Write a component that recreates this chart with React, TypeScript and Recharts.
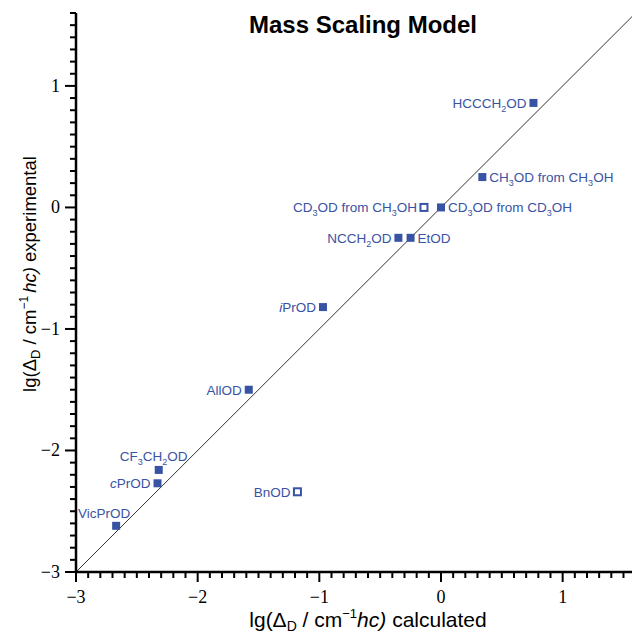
import React from 'react';
import { ScatterChart, Scatter, XAxis, YAxis, ReferenceLine, Customized } from 'recharts';

const names = [
  'HCCCH_2OD',
  'CH_3OD from CH_3OH',
  'CD_3OD from CH_3OH',
  'CD_3OD from CD_3OH',
  'NCCH_2OD',
  'EtOD',
  '*i*PrOD',
  'AllOD',
  'CF_3CH_2OD',
  '*c*PrOD',
  'VicPrOD',
  'BnOD',
];
const calculated = [0.76, 0.34, -0.14, 0.0, -0.35, -0.25, -0.97, -1.58, -2.32, -2.33, -2.67, -1.18];
const experimental = [0.86, 0.25, 0.0, 0.0, -0.25, -0.25, -0.82, -1.5, -2.16, -2.27, -2.62, -2.34];
const openMarker = [false, false, true, false, false, false, false, false, false, false, false, true];
const labelSide = ['left', 'right', 'left', 'right', 'left', 'right', 'left', 'left', 'above', 'left', 'aboveLeft', 'left'];

const majorTicks = [-3, -2, -1, 0, 1];
const tickLabels = ['\u22123', '\u22122', '\u22121', '0', '1'];

const X_DOMAIN: [number, number] = [-3, 1.57];
const Y_DOMAIN: [number, number] = [-3, 1.6];

const BLUE = '#3953a4';
const SANS = '"Liberation Sans", Arial, Helvetica, sans-serif';
const SERIF = '"Liberation Serif", "Times New Roman", serif';

const data = names.map((name, i) => ({
  name,
  x: calculated[i],
  y: experimental[i],
  open: openMarker[i],
  side: labelSide[i],
}));

function minorTicks(lo: number, hi: number) {
  const out: number[] = [];
  for (let i = Math.ceil(lo * 10 - 1e-6); i <= Math.floor(hi * 10 + 1e-6); i++) out.push(i / 10);
  return out;
}

function labelFor(v: number) {
  const i = majorTicks.findIndex((m) => Math.abs(m - v) < 1e-6);
  return i >= 0 ? tickLabels[i] : null;
}

// tokens: _X -> subscript char, *abc* -> italic
function RichText({ x, y, text, anchor }: { x: number; y: number; text: string; anchor: string }) {
  const parts: React.ReactNode[] = [];
  const re = /(_.)|(\*[^*]+\*)|([^_*]+)/g;
  let m: RegExpExecArray | null;
  let shifted = false;
  let k = 0;
  while ((m = re.exec(text))) {
    if (m[1]) {
      parts.push(
        <tspan key={k++} dy={shifted ? 0 : 4} fontSize={9}>
          {m[1].slice(1)}
        </tspan>
      );
      shifted = true;
    } else {
      const dy = shifted ? -4 : 0;
      shifted = false;
      const t = m[2] ? m[2].slice(1, -1) : m[3];
      parts.push(
        <tspan key={k++} dy={dy} fontStyle={m[2] ? 'italic' : 'normal'}>
          {t}
        </tspan>
      );
    }
  }
  return (
    <text x={x} y={y} textAnchor={anchor} fill={BLUE} fontFamily={SANS} fontSize={13.5}>
      {parts}
    </text>
  );
}

function PointShape(props: any) {
  const { cx, cy, payload } = props;
  const s = 8;
  let lx = cx - 7;
  let ly = cy + 5;
  let anchor = 'end';
  if (payload.side === 'right') {
    lx = cx + 7;
    anchor = 'start';
  } else if (payload.side === 'above') {
    lx = cx - 5;
    ly = cy - 9;
    anchor = 'middle';
  } else if (payload.side === 'aboveLeft') {
    lx = cx - 12;
    ly = cy - 8;
    anchor = 'middle';
  }
  return (
    <g>
      {payload.open ? (
        <rect x={cx - 3.5} y={cy - 3.5} width={7} height={7} fill="#fff" stroke={BLUE} strokeWidth={2} />
      ) : (
        <rect x={cx - s / 2} y={cy - s / 2} width={s} height={s} fill={BLUE} />
      )}
      <RichText x={lx} y={ly} text={payload.name} anchor={anchor} />
    </g>
  );
}

function XTick(props: any) {
  const { x, y, payload } = props;
  const label = labelFor(payload.value);
  return (
    <g>
      <line x1={x} x2={x} y1={y} y2={y + (label ? 10 : 6)} stroke="#000" strokeWidth={2} />
      {label && (
        <text x={x} y={y + 31} textAnchor="middle" fontFamily={SERIF} fontSize={18} fill="#000">
          {label}
        </text>
      )}
    </g>
  );
}

function YTick(props: any) {
  const { x, y, payload } = props;
  const label = labelFor(payload.value);
  return (
    <g>
      <line x1={x - (label ? 11 : 6)} x2={x} y1={y} y2={y} stroke="#000" strokeWidth={2} />
      {label && (
        <text x={x - 16} y={y + 6} textAnchor="end" fontFamily={SERIF} fontSize={18} fill="#000">
          {label}
        </text>
      )}
    </g>
  );
}

function Titles() {
  return (
    <g fontFamily={SANS} fill="#000">
      <text x={363} y={33} textAnchor="middle" fontWeight="bold" fontSize={24}>
        Mass Scaling Model
      </text>
      <text x={368} y={627} textAnchor="middle" fontSize={21}>
        <tspan>lg(Δ</tspan>
        <tspan dy={4} fontSize={14}>D</tspan>
        <tspan dy={-4}> / cm</tspan>
        <tspan dy={-9} fontSize={13}>−1</tspan>
        <tspan dy={9} fontStyle="italic">hc)</tspan>
        <tspan> calculated</tspan>
      </text>
      <text x={36} y={274} textAnchor="middle" fontSize={18.5} transform="rotate(-90 36 274)">
        <tspan>lg(Δ</tspan>
        <tspan dy={4} fontSize={13}>D</tspan>
        <tspan dy={-4}> / cm</tspan>
        <tspan dy={-8} fontSize={12}>−1</tspan>
        <tspan dy={8} dx={3} fontStyle="italic">hc)</tspan>
        <tspan> experimental</tspan>
      </text>
    </g>
  );
}

export default function App() {
  return (
    <div style={{ position: 'absolute', left: 0, top: 0, background: '#fff' }}>
      <ScatterChart width={632} height={633} margin={{ top: 13, right: 0, bottom: 0, left: 0 }}>
        <XAxis
          type="number"
          dataKey="x"
          domain={X_DOMAIN}
          allowDataOverflow
          ticks={minorTicks(X_DOMAIN[0], X_DOMAIN[1])}
          interval={0}
          tickSize={0}
          tickMargin={0}
          tickLine={false}
          tick={<XTick />}
          axisLine={{ stroke: '#000', strokeWidth: 2.5 }}
          height={61}
        />
        <YAxis
          type="number"
          dataKey="y"
          domain={Y_DOMAIN}
          allowDataOverflow
          ticks={minorTicks(Y_DOMAIN[0], Y_DOMAIN[1])}
          interval={0}
          tickSize={0}
          tickMargin={0}
          tickLine={false}
          tick={<YTick />}
          axisLine={{ stroke: '#000', strokeWidth: 2.5 }}
          width={76}
        />
        <ReferenceLine
          segment={[
            { x: -3, y: -3 },
            { x: 1.57, y: 1.57 },
          ]}
          stroke="#333"
          strokeWidth={1}
        />
        <Scatter data={data} shape={<PointShape />} isAnimationActive={false} />
        <Customized component={<Titles />} />
      </ScatterChart>
    </div>
  );
}
